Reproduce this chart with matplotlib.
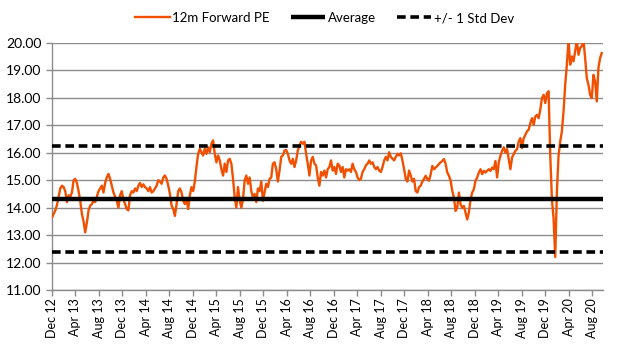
import matplotlib
matplotlib.use("Agg")
import matplotlib.pyplot as plt
import matplotlib.dates as mdates
import pandas as pd
import numpy as np

plt.rcParams['font.family'] = ['Lato', 'DejaVu Sans']

start_date = "2012-12-01"
end_date = "2020-09-19"

pe_values = [
    # Dec 2012 - Mar 2014
    13.65, 13.77, 13.9, 14.1, 14.4, 14.7, 14.8, 14.75, 14.6, 14.2,
    14.45, 14.4, 14.55, 15.0, 15.05, 14.9, 14.6, 14.25, 13.77, 13.5,
    13.1, 13.45, 13.9, 14.07, 14.13, 14.25, 14.2, 14.4, 14.6, 14.7,
    14.8, 14.55, 14.9, 15.1, 15.23, 15.05, 14.8, 14.55, 14.4, 14.25,
    14.0, 14.45, 14.6, 14.3, 14.13, 13.95, 13.9, 14.45, 14.6, 14.55,
    14.7, 14.6, 14.8, 14.9, 14.75, 14.85, 14.75,
    # Mar 2014 - Aug 2015
    14.7, 14.6, 14.75, 14.55, 14.6, 14.7, 14.8, 15.0, 14.95, 14.87,
    15.1, 15.17, 15.05, 14.8, 14.5, 14.07, 13.95, 13.7, 14.13, 14.6,
    14.7, 14.55, 14.25, 14.13, 14.3, 13.95, 14.45, 14.75, 14.6, 14.95,
    15.5, 15.96, 16.15, 16.02, 15.9, 16.15, 15.96, 16.2, 16.02, 16.33,
    16.45, 15.96, 15.65, 15.9, 15.72, 15.4, 15.17, 15.6, 15.3, 15.72,
    15.78, 15.6, 15.05, 14.38, 14.0, 14.75,
    # Aug 2015 - Dec 2016
    14.25, 14.0, 14.3, 15.0, 15.17, 14.87, 15.1, 14.6, 14.38, 14.5,
    14.2, 14.7, 14.6, 14.95, 14.25, 14.55, 14.87, 14.75, 15.05, 15.1,
    15.6, 15.65, 15.4, 14.95, 15.35, 15.85, 15.9, 16.08, 16.1, 15.96,
    15.72, 15.6, 15.78, 15.48, 15.72, 16.08, 16.27, 16.4, 16.33, 16.4,
    15.96, 15.6, 15.17, 15.72, 15.85, 15.6, 15.54, 15.1, 14.8, 15.3,
    15.17, 15.35, 15.1, 15.4, 15.48, 15.72,
    # Dec 2016 - Jun 2018
    15.35, 15.48, 15.23, 15.6, 15.54, 15.3, 15.48, 15.1, 15.4, 15.35,
    15.4, 15.3, 15.6, 15.4, 15.3, 15.1, 15.0, 15.05, 15.3, 15.4,
    15.54, 15.6, 15.72, 15.6, 15.65, 15.48, 15.4, 15.48, 15.35, 15.3,
    15.48, 15.72, 15.85, 15.72, 16.02, 15.85, 15.78, 15.72, 15.85, 15.96,
    15.9, 15.98, 15.72, 15.4, 15.05, 14.95, 15.35, 15.17, 14.95, 15.05,
    14.6, 14.55, 14.75, 14.8, 14.95, 15.05,
    # Jun 2018 - Nov 2019
    15.16, 15.04, 14.98, 15.22, 15.52, 15.4, 15.46, 15.52, 15.59, 15.65,
    15.7, 15.77, 15.59, 15.28, 15.16, 14.98, 14.61, 14.37, 13.88, 14.0,
    14.55, 14.12, 14.0, 14.06, 13.82, 13.57, 13.82, 14.3, 14.55, 14.67,
    14.98, 15.1, 15.28, 15.4, 15.22, 15.34, 15.28, 15.34, 15.4, 15.34,
    15.46, 15.4, 15.7, 15.1, 15.65, 15.89, 16.07, 16.2, 16.01, 16.13,
    15.77, 15.4, 15.83, 15.95, 16.07, 16.13,
    # Nov 2019 - Sep 2020
    16.41, 16.53, 16.17, 16.53, 16.65, 16.78, 16.84, 17.08, 17.26, 17.02,
    17.32, 17.38, 17.26, 17.57, 17.99, 18.11, 17.81, 18.17, 18.24, 15.9,
    14.3, 13.6, 12.2, 14.6, 15.9, 16.41, 16.78, 17.51, 18.48, 19.21,
    20.1, 19.21, 19.51, 19.33, 19.7, 20.1, 19.57, 19.82, 19.88, 20.1,
    19.45, 18.72, 18.48, 18.11, 17.99, 18.84, 18.6, 17.87, 19.09, 19.45,
    19.63,
]

average_pe = 14.33
std_dev_pe = 1.93
upper_band = average_pe + std_dev_pe
lower_band = average_pe - std_dev_pe

tick_dates = pd.date_range("2012-12-01", "2020-08-01", freq="4MS")
tick_labels = [d.strftime("%b %y") for d in tick_dates]

dates = pd.date_range(start_date, end_date, periods=len(pe_values))

fig = plt.figure(figsize=(6.19, 3.58), dpi=100)
ax = fig.add_axes([0.084, 0.190, 0.890, 0.690])

orange = "#F05000"
grid_c = "#8c8c8c"

xmin = pd.Timestamp("2012-12-01")
xmax = pd.Timestamp("2020-09-25")

ax.plot(dates, pe_values, color=orange, lw=1.7, label="12m Forward PE", zorder=3)
ax.plot([xmin, xmax], [average_pe, average_pe], color="black", lw=3.2,
        label="Average", zorder=4, solid_capstyle="butt")
ax.plot([xmin, xmax], [upper_band, upper_band], color="black", lw=2.6,
        linestyle=(0, (2.4, 1.3)), label="+/- 1 Std Dev", zorder=4)
ax.plot([xmin, xmax], [lower_band, lower_band], color="black", lw=2.6,
        linestyle=(0, (2.4, 1.3)), zorder=4)

ax.set_xlim(xmin, xmax)
ax.set_ylim(11, 20)
ax.set_yticks(np.arange(11, 20.01, 1))
ax.set_yticklabels([f"{v:.2f}" for v in np.arange(11, 20.01, 1)], fontsize=10)
ax.set_xticks(tick_dates)
ax.set_xticklabels(tick_labels, rotation=90, fontsize=9)

ax.grid(axis="y", color=grid_c, lw=1.0, zorder=1)
ax.set_axisbelow(True)
for s in ["top", "right"]:
    ax.spines[s].set_visible(False)
for s in ["left", "bottom"]:
    ax.spines[s].set_color(grid_c)
    ax.spines[s].set_linewidth(1.0)
ax.tick_params(axis="both", colors=grid_c, length=4, width=1.0, labelcolor="black")
ax.tick_params(axis="x", pad=2)

leg = ax.legend(loc="lower center", bbox_to_anchor=(0.495, 1.055), ncol=3, frameon=False,
                fontsize=9.5, handlelength=2.6, handletextpad=0.2, columnspacing=1.6,
                borderaxespad=0)

fig.savefig("out.png", dpi=100)
